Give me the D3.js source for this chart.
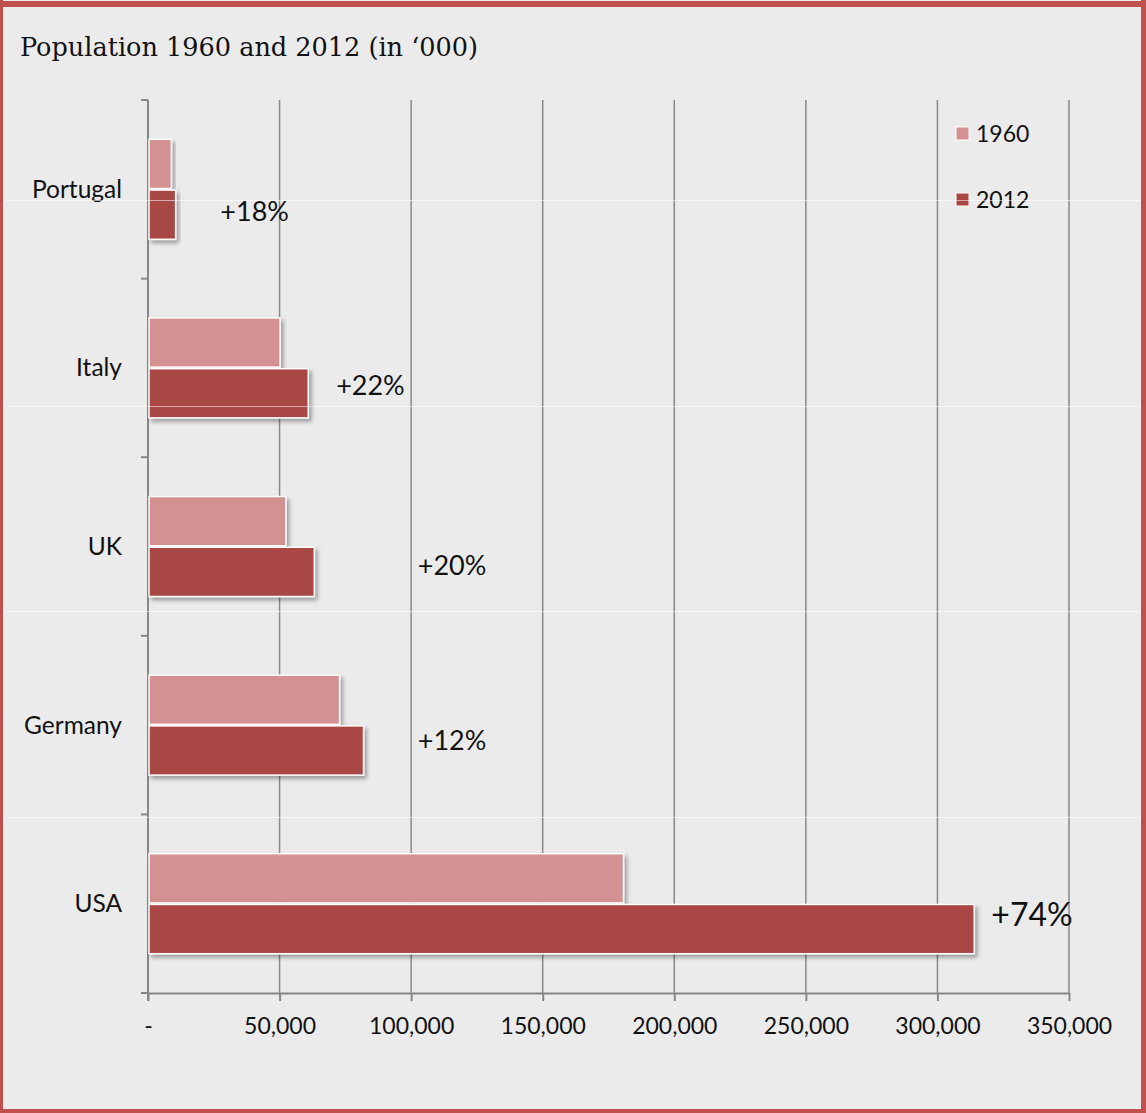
<!DOCTYPE html>
<html>
<head>
<meta charset="utf-8">
<script src="https://cdn.jsdelivr.net/npm/d3@7"></script>
<style>
  body { margin: 0; background: #ebebeb; }
  svg { display: block; }
</style>
</head>
<body>
<svg id="chart" width="1146" height="1113"></svg>
<script>
// data (population in '000)
const categories = ['Portugal', 'Italy', 'UK', 'Germany', 'USA']
const years = ['1960', '2012']
const pop1960 = [8900, 50200, 52400, 72800, 180700]
const pop2012 = [10500, 60900, 63200, 81900, 314000]
const growth = ['+18%', '+22%', '+20%', '+12%', '+74%']
const xTicks = [0, 50000, 100000, 150000, 200000, 250000, 300000, 350000]

const colors = { '1960': '#d39191', '2012': '#a94644' }

const render = () => {

	const svg = d3.select('#chart')
	const width = +svg.attr('width')
	const height = +svg.attr('height')

	const margin = {top: 100, right: 77, bottom: 120, left: 148}

	const rows = categories.map((c, i) => ({name: c, '1960': pop1960[i], '2012': pop2012[i], growth: growth[i]}))

	// background + frame
	svg.append('rect')
		.attr('width', width)
		.attr('height', height)
		.attr('fill', '#ebebeb')

	const defs = svg.append('defs')
	const shadow = defs.append('filter')
		.attr('id', 'shadow')
		.attr('x', '-10%').attr('y', '-10%')
		.attr('width', '130%').attr('height', '140%')
	shadow.append('feDropShadow')
		.attr('dx', 2.5).attr('dy', 3)
		.attr('stdDeviation', 2)
		.attr('flood-color', '#000')
		.attr('flood-opacity', 0.35)

	svg.append('text')
		.attr('x', 20)
		.attr('y', 56)
		.attr('font-family', '"DejaVu Serif Condensed", "DejaVu Serif", serif')
		.attr('font-size', 26)
		.attr('textLength', 458)
		.attr('lengthAdjust', 'spacingAndGlyphs')
		.attr('fill', '#111')
		.text('Population 1960 and 2012 (in \u2018000)')

	const xScale = d3.scaleLinear()
		.domain([0, d3.max(xTicks)])
		.range([margin.left, width - margin.right])

	const yScale = d3.scaleBand()
		.domain(categories)
		.range([margin.top, height - margin.bottom])
		.paddingInner(0.44)
		.paddingOuter(0.22)

	const yInner = d3.scaleBand()
		.domain(years)
		.range([0, yScale.bandwidth()])
		.paddingInner(0.03)

	const y0 = yScale.range()[0]
	const y1 = yScale.range()[1]

	// gridlines
	svg.append('g')
		.selectAll('line')
		.data(xTicks.filter(d => d > 0))
		.enter()
		.append('line')
		.attr('x1', d => xScale(d))
		.attr('x2', d => xScale(d))
		.attr('y1', y0)
		.attr('y2', y1)
		.attr('stroke', '#8a8a8a')
		.attr('stroke-width', 1.5)

	// x axis
	const xAxis = d3.axisBottom(xScale)
		.tickValues(xTicks)
		.tickFormat(d => d === 0 ? '-' : d3.format(',')(d))
		.tickSize(8)
		.tickSizeOuter(0)
		.tickPadding(17)

	const xAxisData = svg.append('g')
		.attr('transform', `translate(0, ${y1})`)
		.call(xAxis)

	xAxisData.select('.domain')
		.attr('stroke', '#868686')
		.attr('stroke-width', 2)
	xAxisData.selectAll('.tick line')
		.attr('stroke', '#868686')
		.attr('stroke-width', 2)
	xAxisData.selectAll('text')
		.attr('font-family', 'Lato, sans-serif')
		.attr('font-size', 23)
		.attr('fill', '#111')

	// y axis: line, boundary ticks and category labels
	const yAxis = svg.append('g')
	yAxis.append('line')
		.attr('x1', margin.left).attr('x2', margin.left)
		.attr('y1', y0).attr('y2', y1 + 8)
		.attr('stroke', '#868686')
		.attr('stroke-width', 2)

	yAxis.selectAll('.bound')
		.data(d3.range(categories.length + 1))
		.enter()
		.append('line')
		.attr('class', 'bound')
		.attr('x1', margin.left - 7).attr('x2', margin.left)
		.attr('y1', i => y0 + i * yScale.step())
		.attr('y2', i => y0 + i * yScale.step())
		.attr('stroke', '#868686')
		.attr('stroke-width', 2)

	yAxis.selectAll('.cat')
		.data(categories)
		.enter()
		.append('text')
		.attr('class', 'cat')
		.attr('x', margin.left - 26)
		.attr('y', d => yScale(d) + yScale.bandwidth() / 2)
		.attr('dy', '0.35em')
		.attr('text-anchor', 'end')
		.attr('font-family', 'Lato, sans-serif')
		.attr('font-size', 24.5)
		.attr('fill', '#111')
		.text(d => d)

	// bars
	const groups = svg.append('g')
		.selectAll('g')
		.data(rows)
		.enter()
		.append('g')
		.attr('transform', d => `translate(0, ${yScale(d.name)})`)

	groups.selectAll('rect')
		.data(d => years.map(y => ({year: y, value: d[y]})))
		.enter()
		.append('rect')
		.attr('x', xScale(0) + 1)
		.attr('y', d => yInner(d.year))
		.attr('width', d => xScale(d.value) - xScale(0) - 1)
		.attr('height', yInner.bandwidth())
		.attr('fill', d => colors[d.year])
		.attr('stroke', '#fff')
		.attr('stroke-width', 1.5)
		.attr('filter', 'url(#shadow)')

	// growth labels (placement as in the original, in data units / px below band centre)
	const labelAt = [27500, 71500, 102500, 102500, 320500]
	const labelDy = [32, 27, 28, 25, 22]
	const labelSize = [27, 27, 27, 27, 32]

	svg.append('g')
		.selectAll('text')
		.data(rows)
		.enter()
		.append('text')
		.attr('x', (d, i) => xScale(labelAt[i]))
		.attr('y', (d, i) => yScale(d.name) + yScale.bandwidth() / 2 + labelDy[i])
		.attr('font-family', 'Lato, sans-serif')
		.attr('font-size', (d, i) => labelSize[i])
		.attr('fill', '#111')
		.text(d => d.growth)

	// legend
	const legend = svg.append('g')
		.attr('transform', 'translate(956, 127)')

	const item = legend.selectAll('g')
		.data(years)
		.enter()
		.append('g')
		.attr('transform', (d, i) => `translate(0, ${i * 66})`)

	item.append('rect')
		.attr('width', 13)
		.attr('height', 13)
		.attr('fill', d => colors[d])
		.attr('stroke', '#fff')
		.attr('stroke-width', 1)

	item.append('text')
		.attr('x', 20)
		.attr('y', 15)
		.attr('font-family', 'Lato, sans-serif')
		.attr('font-size', 23)
		.attr('fill', '#111')
		.text(d => d)

	// faint tile seams visible in the original picture
	svg.append('g')
		.selectAll('line')
		.data([200, 406, 611, 817])
		.enter()
		.append('line')
		.attr('x1', 0).attr('x2', width)
		.attr('y1', d => d + 0.5).attr('y2', d => d + 0.5)
		.attr('stroke', '#fff')
		.attr('stroke-opacity', 0.55)
		.attr('stroke-width', 1)

	// red frame
	const frame = svg.append('g').attr('fill', '#c0504d')
	frame.append('rect').attr('x', 0).attr('y', 1).attr('width', width).attr('height', 6)
	frame.append('rect').attr('x', 0).attr('y', 0).attr('width', 3).attr('height', height)
	frame.append('rect').attr('x', width - 5).attr('y', 0).attr('width', 5).attr('height', height)
	frame.append('rect').attr('x', 0).attr('y', height - 4).attr('width', width).attr('height', 4)
}

render()
</script>
</body>
</html>
